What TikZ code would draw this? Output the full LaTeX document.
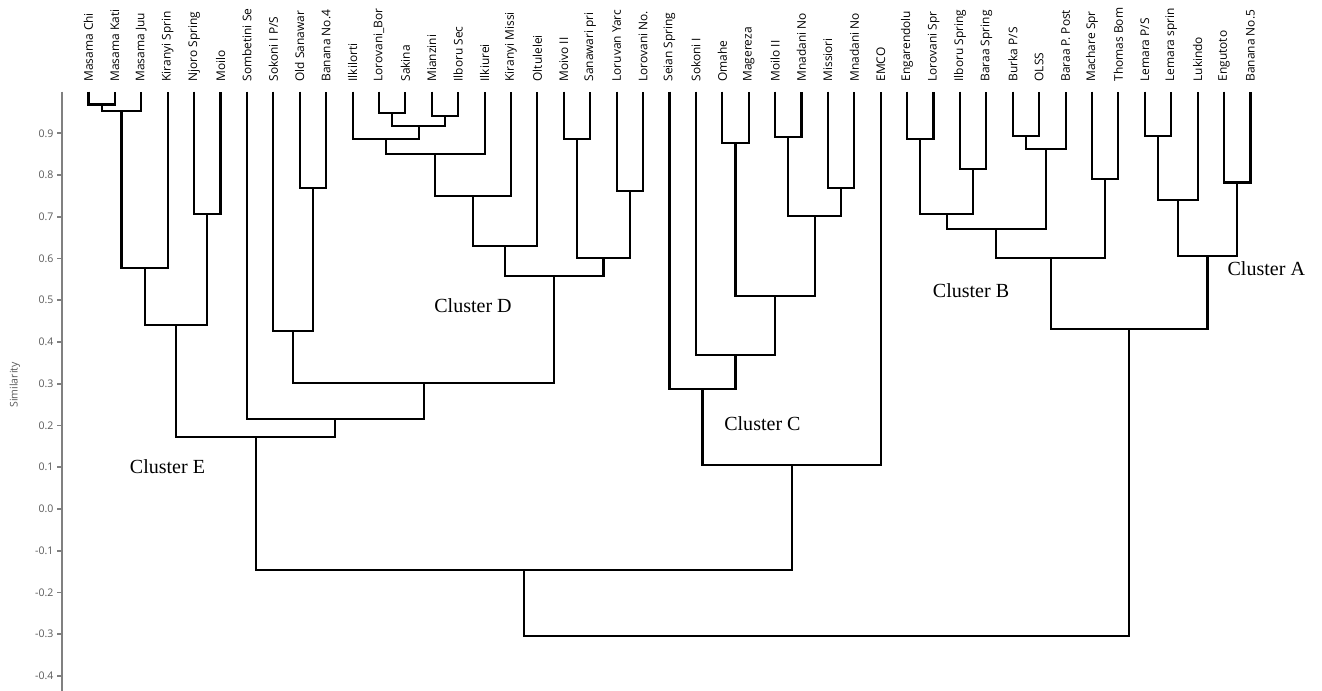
\documentclass[tikz,border=0pt]{standalone}
\usepackage{fontspec}
\setmainfont{Liberation Serif}
\newfontfamily\sitefont{Open Sans}
\usepackage{tikz}

\begin{document}
\begin{tikzpicture}[x=0.5282cm,y=8.35cm,
  branch/.style={draw=black,line width=1.2pt},
  axisline/.style={draw=black!50,line width=1.1pt},
  site/.style={font=\sitefont\fontsize{6.8}{7}\selectfont,rotate=90,anchor=west,inner xsep=0.2cm,inner ysep=0pt,outer sep=0pt},
  ticklabel/.style={font=\sitefont\fontsize{6}{7}\selectfont,text=black!65,anchor=east,inner sep=1.5pt},
  clusterlabel/.style={font=\fontsize{11.4}{13}\selectfont,inner sep=0pt}]
\useasboundingbox (-2.351,-0.4359) rectangle (47.71,1.2192);
\draw[axisline] (0,1) -- (0,-0.4359);
\draw[axisline] (0,0.9) -- (-0.19,0.9) node[ticklabel] (k9) {0.9};
\draw[axisline] (0,0.8) -- (-0.19,0.8) node[ticklabel] (k8) {0.8};
\draw[axisline] (0,0.7) -- (-0.19,0.7) node[ticklabel] (k7) {0.7};
\draw[axisline] (0,0.6) -- (-0.19,0.6) node[ticklabel] (k6) {0.6};
\draw[axisline] (0,0.5) -- (-0.19,0.5) node[ticklabel] (k5) {0.5};
\draw[axisline] (0,0.4) -- (-0.19,0.4) node[ticklabel] (k4) {0.4};
\draw[axisline] (0,0.3) -- (-0.19,0.3) node[ticklabel] (k3) {0.3};
\draw[axisline] (0,0.2) -- (-0.19,0.2) node[ticklabel] (k2) {0.2};
\draw[axisline] (0,0.1) -- (-0.19,0.1) node[ticklabel] (k1) {0.1};
\draw[axisline] (0,0.0) -- (-0.19,0.0) node[ticklabel] (k0) {0.0};
\draw[axisline] (0,-0.1) -- (-0.19,-0.1) node[ticklabel] (km1) {-0.1};
\draw[axisline] (0,-0.2) -- (-0.19,-0.2) node[ticklabel] (km2) {-0.2};
\draw[axisline] (0,-0.3) -- (-0.19,-0.3) node[ticklabel] (km3) {-0.3};
\draw[axisline] (0,-0.4) -- (-0.19,-0.4) node[ticklabel] (km4) {-0.4};
\node[font=\sitefont\fontsize{6}{7}\selectfont,text=black!65,rotate=90] (ylab) at (-1.783,0.297) {Similarity};
\node[site] (l1) at (1,1) {Masama Chi};
\node[site] (l2) at (2,1) {Masama Kati};
\node[site] (l3) at (3,1) {Masama Juu};
\node[site] (l4) at (4,1) {Kiranyi Sprin};
\node[site] (l5) at (5,1) {Njoro Spring};
\node[site] (l6) at (6,1) {Moilo};
\node[site] (l7) at (7,1) {Sombetini Se};
\node[site] (l8) at (8,1) {Sokoni I P/S};
\node[site] (l9) at (9,1) {Old Sanawar};
\node[site] (l10) at (10,1) {Banana No.4};
\node[site] (l11) at (11,1) {Ilkilorti};
\node[site] (l12) at (12,1) {Lorovani\_Bor};
\node[site] (l13) at (13,1) {Sakina};
\node[site] (l14) at (14,1) {Mianzini};
\node[site] (l15) at (15,1) {Ilboru Sec};
\node[site] (l16) at (16,1) {Ilkiurei};
\node[site] (l17) at (17,1) {Kiranyi Missi};
\node[site] (l18) at (18,1) {Oltulelei};
\node[site] (l19) at (19,1) {Moivo II};
\node[site] (l20) at (20,1) {Sanawari pri};
\node[site] (l21) at (21,1) {Loruvan Yarc};
\node[site] (l22) at (22,1) {Lorovani No.};
\node[site] (l23) at (23,1) {Seian Spring};
\node[site] (l24) at (24,1) {Sokoni I};
\node[site] (l25) at (25,1) {Omahe};
\node[site] (l26) at (26,1) {Magereza};
\node[site] (l27) at (27,1) {Moilo II};
\node[site] (l28) at (28,1) {Mnadani No};
\node[site] (l29) at (29,1) {Missiori};
\node[site] (l30) at (30,1) {Mnadani No};
\node[site] (l31) at (31,1) {EMCO};
\node[site] (l32) at (32,1) {Engarendolu};
\node[site] (l33) at (33,1) {Lorovani Spr};
\node[site] (l34) at (34,1) {Ilboru Spring};
\node[site] (l35) at (35,1) {Baraa Spring};
\node[site] (l36) at (36,1) {Burka P/S};
\node[site] (l37) at (37,1) {OLSS};
\node[site] (l38) at (38,1) {Baraa P. Post};
\node[site] (l39) at (39,1) {Machare Spr};
\node[site] (l40) at (40,1) {Thomas Bom};
\node[site] (l41) at (41,1) {Lemara P/S};
\node[site] (l42) at (42,1) {Lemara sprin};
\node[site] (l43) at (43,1) {Lukindo};
\node[site] (l44) at (44,1) {Engutoto};
\node[site] (l45) at (45,1) {Banana No.5};
\coordinate (m1) at (1.5,0.969);
\draw[branch] (l1.west) |- (m1) -| (l2.west);
\coordinate (m2) at (2.25,0.953);
\draw[branch] (m1) |- (m2) -| (l3.west);
\coordinate (m3) at (3.125,0.577);
\draw[branch] (m2) |- (m3) -| (l4.west);
\coordinate (m4) at (5.5,0.707);
\draw[branch] (l5.west) |- (m4) -| (l6.west);
\coordinate (m5) at (4.3125,0.441);
\draw[branch] (m3) |- (m5) -| (m4);
\coordinate (m6) at (9.5,0.768);
\draw[branch] (l9.west) |- (m6) -| (l10.west);
\coordinate (m7) at (8.75,0.426);
\draw[branch] (l8.west) |- (m7) -| (m6);
\coordinate (d1) at (12.5,0.949);
\draw[branch] (l12.west) |- (d1) -| (l13.west);
\coordinate (d2) at (14.5,0.942);
\draw[branch] (l14.west) |- (d2) -| (l15.west);
\coordinate (d3) at (13.5,0.918);
\draw[branch] (d1) |- (d3) -| (d2);
\coordinate (d4) at (12.25,0.886);
\draw[branch] (l11.west) |- (d4) -| (d3);
\coordinate (d5) at (14.125,0.850);
\draw[branch] (d4) |- (d5) -| (l16.west);
\coordinate (d6) at (15.5625,0.750);
\draw[branch] (d5) |- (d6) -| (l17.west);
\coordinate (d7) at (16.78125,0.630);
\draw[branch] (d6) |- (d7) -| (l18.west);
\coordinate (d8) at (19.5,0.886);
\draw[branch] (l19.west) |- (d8) -| (l20.west);
\coordinate (d9) at (21.5,0.762);
\draw[branch] (l21.west) |- (d9) -| (l22.west);
\coordinate (d10) at (20.5,0.601);
\draw[branch] (d8) |- (d10) -| (d9);
\coordinate (d11) at (18.640625,0.558);
\draw[branch] (d7) |- (d11) -| (d10);
\coordinate (m8) at (13.6953,0.302);
\draw[branch] (m7) |- (m8) -| (d11);
\coordinate (m9) at (10.3477,0.216);
\draw[branch] (l7.west) |- (m9) -| (m8);
\coordinate (m10) at (7.3301,0.172);
\draw[branch] (m5) |- (m10) -| (m9);
\coordinate (c1) at (25.5,0.877);
\draw[branch] (l25.west) |- (c1) -| (l26.west);
\coordinate (c2) at (27.5,0.892);
\draw[branch] (l27.west) |- (c2) -| (l28.west);
\coordinate (c3) at (29.5,0.768);
\draw[branch] (l29.west) |- (c3) -| (l30.west);
\coordinate (c4) at (28.5,0.702);
\draw[branch] (c2) |- (c4) -| (c3);
\coordinate (c5) at (27,0.51);
\draw[branch] (c1) |- (c5) -| (c4);
\coordinate (c6) at (25.5,0.369);
\draw[branch] (l24.west) |- (c6) -| (c5);
\coordinate (c7) at (24.25,0.287);
\draw[branch] (l23.west) |- (c7) -| (c6);
\coordinate (c8) at (27.625,0.105);
\draw[branch] (c7) |- (c8) -| (l31.west);
\coordinate (m11) at (17.4775,-0.146);
\draw[branch] (m10) |- (m11) -| (c8);
\coordinate (b1) at (32.5,0.886);
\draw[branch] (l32.west) |- (b1) -| (l33.west);
\coordinate (b2) at (34.5,0.814);
\draw[branch] (l34.west) |- (b2) -| (l35.west);
\coordinate (b3) at (33.5,0.707);
\draw[branch] (b1) |- (b3) -| (b2);
\coordinate (b4) at (36.5,0.893);
\draw[branch] (l36.west) |- (b4) -| (l37.west);
\coordinate (b5) at (37.25,0.862);
\draw[branch] (b4) |- (b5) -| (l38.west);
\coordinate (b6) at (35.375,0.671);
\draw[branch] (b3) |- (b6) -| (b5);
\coordinate (b7) at (39.5,0.790);
\draw[branch] (l39.west) |- (b7) -| (l40.west);
\coordinate (b8) at (37.4375,0.601);
\draw[branch] (b6) |- (b8) -| (b7);
\coordinate (a1) at (41.5,0.893);
\draw[branch] (l41.west) |- (a1) -| (l42.west);
\coordinate (a2) at (42.25,0.740);
\draw[branch] (a1) |- (a2) -| (l43.west);
\coordinate (a3) at (44.5,0.782);
\draw[branch] (l44.west) |- (a3) -| (l45.west);
\coordinate (a4) at (43.375,0.605);
\draw[branch] (a2) |- (a4) -| (a3);
\coordinate (m12) at (40.40625,0.431);
\draw[branch] (b8) |- (m12) -| (a4);
\coordinate (root) at (28.942,-0.304);
\draw[branch] (m11) |- (root) -| (m12);
\node[clusterlabel] (cE) at (3.991,0.1006) {Cluster E};
\node[clusterlabel] (cD) at (15.56,0.486) {Cluster D};
\node[clusterlabel] (cC) at (26.52,0.2036) {Cluster C};
\node[clusterlabel] (cB) at (34.42,0.522) {Cluster B};
\node[clusterlabel] (cA) at (45.60,0.575) {Cluster A};
\end{tikzpicture}
\end{document}
